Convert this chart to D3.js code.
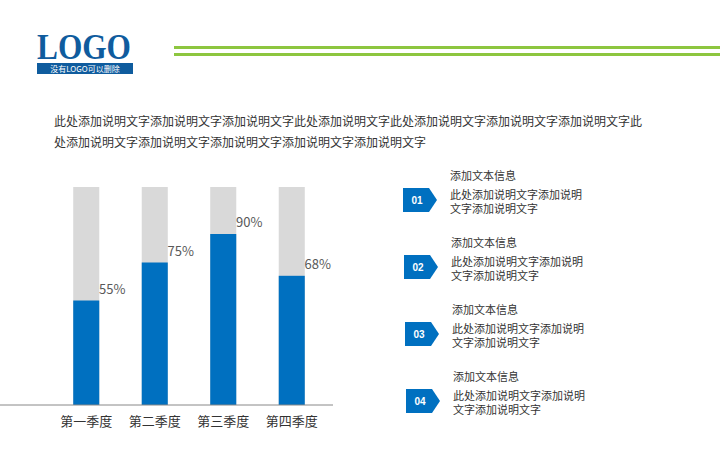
<!DOCTYPE html>
<html>
<head>
<script src="https://d3js.org/d3.v7.min.js"></script>
<style>
  body { margin: 0; background: #fff; }
  text { font-family: "Microsoft YaHei", "Noto Sans CJK SC", sans-serif; }
  text.logo { font-family: "Liberation Serif", "DejaVu Serif", serif; }
  text.num { font-family: "Liberation Sans", sans-serif; }
</style>
</head>
<body>
<svg width="720" height="450"></svg>
<script>
const categories = ["第一季度", "第二季度", "第三季度", "第四季度"];
const values = [55, 75, 90, 68];
const itemNumbers = ["01", "02", "03", "04"];
const itemTitle = "添加文本信息";
const itemLines = ["此处添加说明文字添加说明", "文字添加说明文字"];
const introLines = [
  "此处添加说明文字添加说明文字添加说明文字此处添加说明文字此处添加说明文字添加说明文字添加说明文字此",
  "处添加说明文字添加说明文字添加说明文字添加说明文字添加说明文字"
];

const svg = d3.select("svg");
const blue = "#0070C0";

// header
svg.append("text").attr("class", "logo").attr("x", 37).attr("y", 59)
  .attr("font-weight", "bold").attr("font-size", 36).attr("fill", "#0F5C9E")
  .attr("textLength", 94).attr("lengthAdjust", "spacingAndGlyphs").text("LOGO");
svg.append("rect").attr("x", 37).attr("y", 63).attr("width", 96).attr("height", 11).attr("fill", "#0F5C9E");
svg.append("text").attr("x", 85).attr("y", 72).attr("text-anchor", "middle")
  .attr("font-size", 8).attr("fill", "#fff").text("没有LOGO可以删除");
svg.append("rect").attr("x", 174).attr("y", 46).attr("width", 546).attr("height", 3).attr("fill", "#8DC63F");
svg.append("rect").attr("x", 174).attr("y", 53).attr("width", 546).attr("height", 3).attr("fill", "#8DC63F");

svg.selectAll(".intro").data(introLines).join("text")
  .attr("x", 54).attr("y", (d, i) => 126 + i * 21)
  .attr("font-size", 12).attr("fill", "#333").text(d => d);

// chart
const baseY = 405;
const x = d3.scaleBand().domain(categories).range([52, 326]).paddingInner(0.62).paddingOuter(0.31);
const y = d3.scaleLinear().domain([0, 100]).range([baseY, baseY - 190]);

svg.selectAll(".bg").data(categories).join("rect")
  .attr("x", d => x(d)).attr("width", x.bandwidth())
  .attr("y", 187).attr("height", baseY - 187).attr("fill", "#D9D9D9");
svg.selectAll(".bar").data(values).join("rect")
  .attr("x", (d, i) => x(categories[i])).attr("width", x.bandwidth())
  .attr("y", d => y(d)).attr("height", d => baseY - y(d)).attr("fill", blue);
svg.selectAll(".pct").data(values).join("text")
  .attr("x", (d, i) => x(categories[i]) + x.bandwidth() + 13)
  .attr("y", d => y(d) - 7).attr("text-anchor", "middle")
  .attr("font-size", 13).attr("fill", "#595959").text(d => d + "%");

const axis = svg.append("g").attr("transform", `translate(0,${baseY})`)
  .call(d3.axisBottom(x).tickSize(0).tickPadding(12));
axis.select(".domain").attr("stroke", "#888").attr("d", "M-2,0H333");
axis.selectAll("text").attr("font-size", 13).attr("fill", "#333")
  .attr("font-family", null);

// items
const items = svg.selectAll(".item").data(itemNumbers).join("g")
  .attr("transform", (d, i) => `translate(${403 + i},${188 + i * 67})`);
items.append("path").attr("d", "M0,0H26L34,12L26,24H0Z").attr("fill", blue);
items.append("text").attr("class", "num").attr("x", 14).attr("y", 16).attr("text-anchor", "middle")
  .attr("font-size", 10).attr("font-weight", "bold").attr("fill", "#fff").text(d => d);
items.append("text").attr("x", 47).attr("y", -8).attr("font-size", 11).attr("fill", "#333").text(itemTitle);
itemLines.forEach((l, j) => {
  items.append("text").attr("x", 47).attr("y", 11 + j * 14).attr("font-size", 11).attr("fill", "#333").text(l);
});
</script>
</body>
</html>
